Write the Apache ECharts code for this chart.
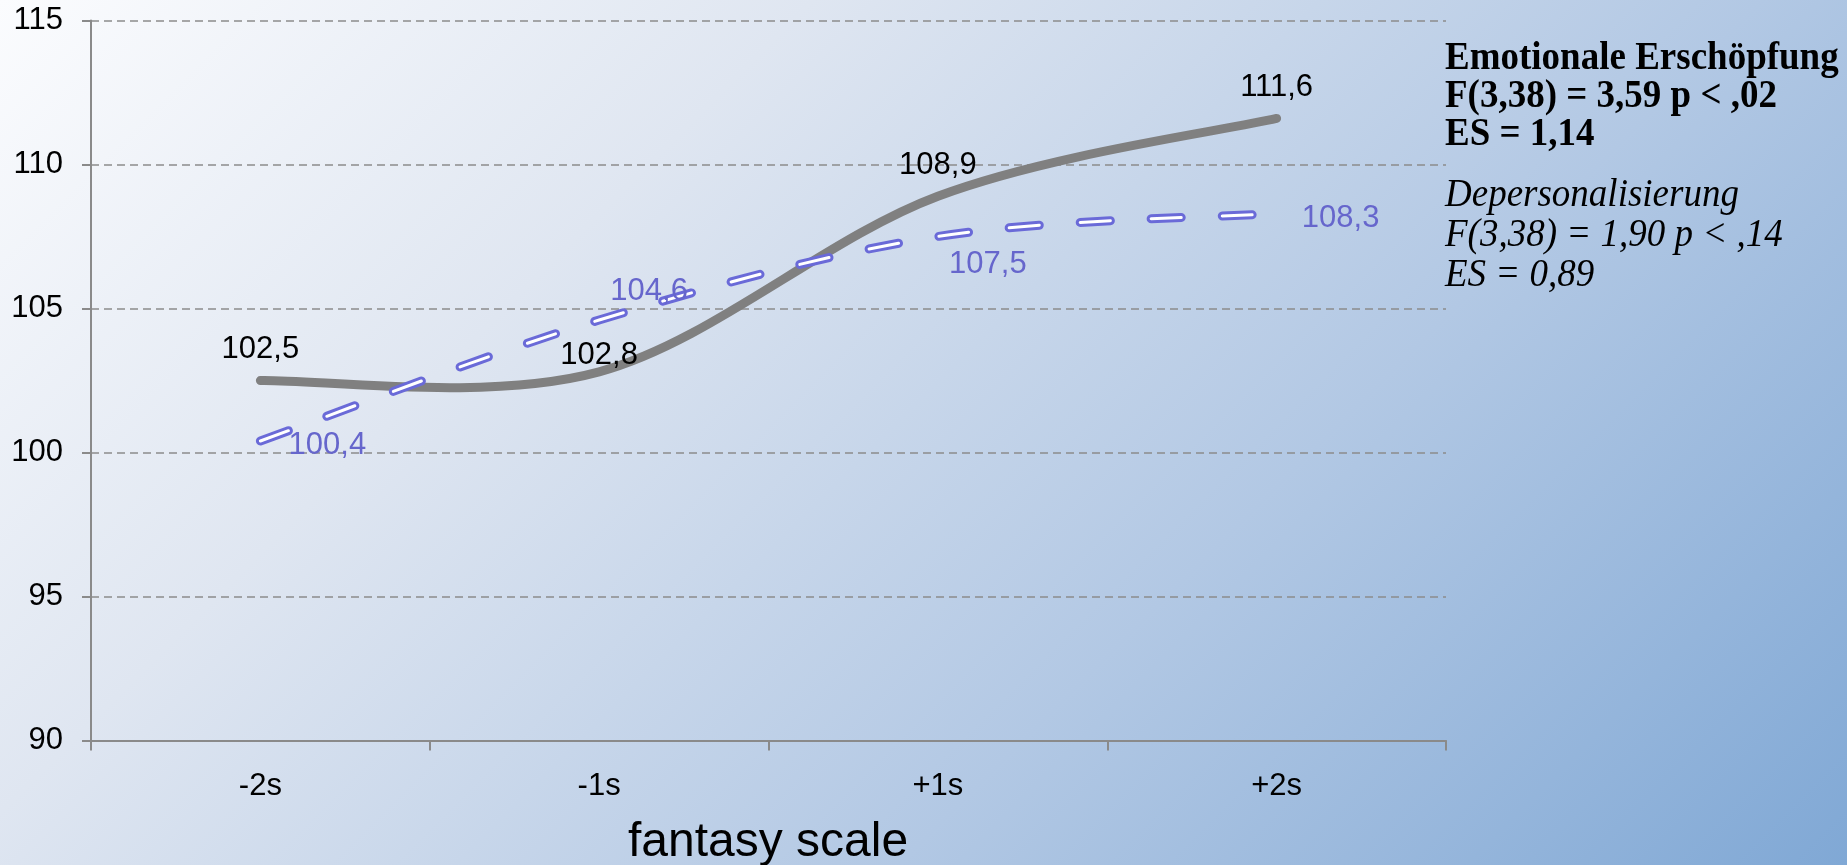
<!DOCTYPE html>
<html>
<head>
<meta charset="utf-8">
<script src="https://cdn.jsdelivr.net/npm/echarts@6/dist/echarts.min.js"></script>
<style>
  html, body { margin: 0; padding: 0; }
  #chart { width: 1847px; height: 865px; }
</style>
</head>
<body>
<div id="chart"></div>
<script>
// Categories along the fantasy scale
const categories = ['-2s', '-1s', '+1s', '+2s'];
// Mean scores per group
const exhaustion = [102.5, 102.8, 108.9, 111.6];
const depersonalisation = [100.4, 104.6, 107.5, 108.3];
// Value axis range
const yMin = 90;
const yMax = 115;
const yStep = 5;
// Statistics text blocks
const statsBold = ['Emotionale Erschöpfung', 'F(3,38) = 3,59 p < ,02', 'ES = 1,14'];
const statsItalic = ['Depersonalisierung', 'F(3,38) = 1,90 p < ,14', 'ES = 0,89'];
const axisTitle = 'fantasy scale';

// Label placement relative to each point (pixels)
const exhaustionLabelOffset = [[0, -31], [0, -16], [0, -31], [0, -31]];
const depersLabelOffset = [[67, 4], [50, -29], [50, 28], [64, 5]];

const fmt = v => v.toFixed(1).replace('.', ',');
const sansFont = "'Liberation Sans', Arial, sans-serif";
const serifFont = "'Liberation Serif', 'Times New Roman', serif";
const purple = '#6a6ad8';
const dash = [30, 41];

// Cardinal-spline path through pixel points (tension 1/6), like office chart smoothing
function smoothPath(pts) {
  let d = 'M' + pts[0][0] + ' ' + pts[0][1];
  for (let i = 0; i < pts.length - 1; i++) {
    const p0 = pts[Math.max(i - 1, 0)];
    const p1 = pts[i];
    const p2 = pts[i + 1];
    const p3 = pts[Math.min(i + 2, pts.length - 1)];
    const c1x = p1[0] + (p2[0] - p0[0]) / 6, c1y = p1[1] + (p2[1] - p0[1]) / 6;
    const c2x = p2[0] - (p3[0] - p1[0]) / 6, c2y = p2[1] - (p3[1] - p1[1]) / 6;
    d += ' C' + c1x + ' ' + c1y + ' ' + c2x + ' ' + c2y + ' ' + p2[0] + ' ' + p2[1];
  }
  return d;
}

// Builds a renderItem that draws the whole curve once plus one value label per point
function curveRenderer(values, strokes, labelColor, offsets) {
  return function (params, api) {
    const i = params.dataIndex;
    const pts = values.map((v, k) => api.coord([k, v]));
    const children = [];
    if (i === 0) {
      const d = smoothPath(pts);
      strokes.forEach((s, k) => {
        children.push({
          type: 'path',
          z2: k,
          shape: { pathData: d },
          style: {
            fill: null,
            stroke: s.color,
            lineWidth: s.width,
            lineCap: 'round',
            lineJoin: 'round',
            lineDash: s.dash || null
          }
        });
      });
    }
    children.push({
      type: 'text',
      z2: 10,
      x: pts[i][0] + offsets[i][0],
      y: pts[i][1] + offsets[i][1],
      style: {
        text: fmt(values[i]),
        font: `31px ${sansFont}`,
        fill: labelColor,
        textAlign: 'center',
        textVerticalAlign: 'middle'
      }
    });
    return { type: 'group', children };
  };
}

const chart = echarts.init(document.getElementById('chart'));

const textLines = [];
statsBold.forEach((t, i) => {
  textLines.push({
    type: 'text', x: 1445, y: 60 + i * 38, scaleY: 1.1, originY: 12,
    style: { text: t, font: `bold 37px ${serifFont}`, fill: '#000', textVerticalAlign: 'middle' }
  });
});
statsItalic.forEach((t, i) => {
  textLines.push({
    type: 'text', x: 1445, y: 197 + i * 40, scaleY: 1.1, originY: 12,
    style: { text: t, font: `italic 37px ${serifFont}`, fill: '#000', textVerticalAlign: 'middle' }
  });
});
textLines.push({
  type: 'text', x: 768, y: 843,
  style: { text: axisTitle, font: `48px ${sansFont}`, fill: '#000', textAlign: 'center', textVerticalAlign: 'middle' }
});

const option = {
  animation: false,
  backgroundColor: {
    type: 'linear', x: 0, y: 0, x2: 1356, y2: 1356, global: true,
    colorStops: [
      { offset: 0, color: '#fbfcfe' },
      { offset: 0.3, color: '#dfe6f1' },
      { offset: 0.65, color: '#b2c8e4' },
      { offset: 1, color: '#80a8d5' }
    ]
  },
  grid: { left: 91, right: 401, top: 20.5, bottom: 124.5, containLabel: false },
  xAxis: {
    type: 'category',
    data: categories,
    boundaryGap: true,
    axisLine: { show: true, lineStyle: { color: '#8a8a8a', width: 2 } },
    axisTick: { show: true, length: 10, alignWithLabel: false, lineStyle: { color: '#8a8a8a', width: 2 } },
    axisLabel: { fontSize: 31, fontFamily: sansFont, color: '#000', margin: 30 },
    splitLine: { show: false }
  },
  yAxis: {
    type: 'value',
    min: yMin, max: yMax, interval: yStep,
    axisLine: { show: true, lineStyle: { color: '#8a8a8a', width: 2 } },
    axisTick: { show: true, inside: false, length: 9, lineStyle: { color: '#8a8a8a', width: 2 } },
    axisLabel: { fontSize: 31, fontFamily: sansFont, color: '#000', margin: 28 },
    splitLine: { show: true, lineStyle: { color: '#8c8c8c', width: 1.5, type: [8, 5] } }
  },
  graphic: textLines,
  series: [
    {
      name: 'Emotionale Erschöpfung',
      type: 'custom',
      coordinateSystem: 'cartesian2d',
      encode: { x: 0, y: 1 },
      data: exhaustion.map((v, i) => [i, v]),
      renderItem: curveRenderer(exhaustion, [{ color: '#808080', width: 9 }], '#000', exhaustionLabelOffset),
      clip: false,
      z: 2
    },
    {
      name: 'Depersonalisierung',
      type: 'custom',
      coordinateSystem: 'cartesian2d',
      encode: { x: 0, y: 1 },
      data: depersonalisation.map((v, i) => [i, v]),
      renderItem: curveRenderer(
        depersonalisation,
        [{ color: purple, width: 9, dash: dash }, { color: '#ffffff', width: 3, dash: dash }],
        '#6666cc',
        depersLabelOffset
      ),
      clip: false,
      z: 3
    }
  ]
};

chart.setOption(option);
</script>
</body>
</html>
